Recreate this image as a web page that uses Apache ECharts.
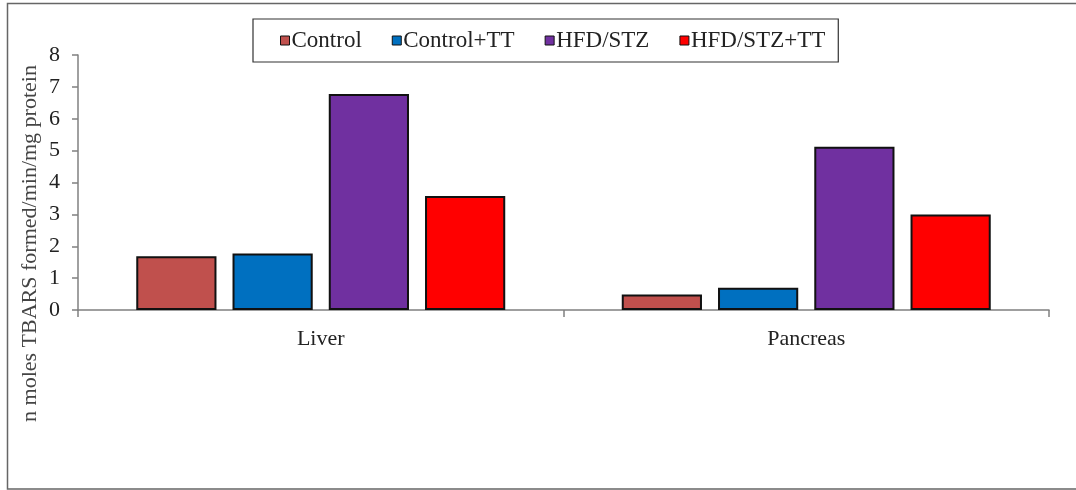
<!DOCTYPE html>
<html>
<head>
<meta charset="utf-8">
<script src="https://cdn.jsdelivr.net/npm/echarts@6/dist/echarts.min.js"></script>
<style>
  html, body { margin: 0; padding: 0; background: #fff; }
  #chart { width: 1076px; height: 490px; }
</style>
</head>
<body>
<div id="chart"></div>
<script>
// data
let tissues = ['Liver', 'Pancreas'];
let groups = ['Control', 'Control+TT', 'HFD/STZ', 'HFD/STZ+TT'];
let control = [1.69, 0.49];
let controlTT = [1.77, 0.70];
let hfdStz = [6.78, 5.12];
let hfdStzTT = [3.58, 3.00];
let groupColors = ['#C0504D', '#0070C0', '#7030A0', '#FF0000'];
let yTicks = [0, 8, 1];

let font = 'Liberation Serif';
let myChart = echarts.init(document.getElementById('chart'));

let values = [control, controlTT, hfdStz, hfdStzTT];
let series = [];
for (let i = 0; i < groups.length; i++) {
    series.push({
        name: groups[i],
        type: 'bar',
        data: values[i],
        barGap: '20%',
        barCategoryGap: '24%',
        itemStyle: {
            color: groupColors[i],
            borderColor: '#111',
            borderWidth: 2
        }
    });
}

let option = {
    animation: false,
    backgroundColor: '#fff',
    textStyle: { fontFamily: font },
    legend: {
        data: groups,
        left: 253,
        top: 19,
        padding: [10, 13, 10, 27],
        itemGap: 30,
        itemWidth: 9,
        itemHeight: 9,
        icon: 'rect',
        borderColor: '#333',
        borderWidth: 1.2,
        itemStyle: { borderColor: '#111', borderWidth: 1 },
        textStyle: { fontFamily: font, fontSize: 23, color: '#222', padding: [0, 0, 0, -3] }
    },
    grid: {
        left: 78,
        right: 27,
        top: 55,
        bottom: 180
    },
    xAxis: {
        type: 'category',
        data: tissues,
        axisLine: { lineStyle: { color: '#808080', width: 1.5 } },
        axisTick: { show: true, length: 7, lineStyle: { color: '#808080', width: 1.5 } },
        axisLabel: { fontFamily: font, fontSize: 22, color: '#222', margin: 18 }
    },
    yAxis: {
        type: 'value',
        min: yTicks[0],
        max: yTicks[1],
        interval: yTicks[2],
        name: 'n moles TBARS formed/min/mg protein',
        nameLocation: 'middle',
        nameRotate: 90,
        nameGap: 37,
        nameMoveOverlap: false,
        nameTextStyle: { fontFamily: font, fontSize: 22, color: '#444', padding: [0, 122, 0, 0] },
        splitLine: { show: false },
        axisLine: { show: true, lineStyle: { color: '#808080', width: 1.5 } },
        axisTick: { show: true, length: 6, lineStyle: { color: '#808080', width: 1.5 } },
        axisLabel: { fontFamily: font, fontSize: 22, color: '#222', margin: 18 }
    },
    graphic: [{
        type: 'rect',
        shape: { x: 7.5, y: 3.5, width: 1080, height: 485.5 },
        style: { fill: 'none', stroke: '#666', lineWidth: 1.5 },
        silent: true
    }],
    series: series
};

myChart.setOption(option);
window.onresize = function () {
    myChart.resize();
};
</script>
</body>
</html>
